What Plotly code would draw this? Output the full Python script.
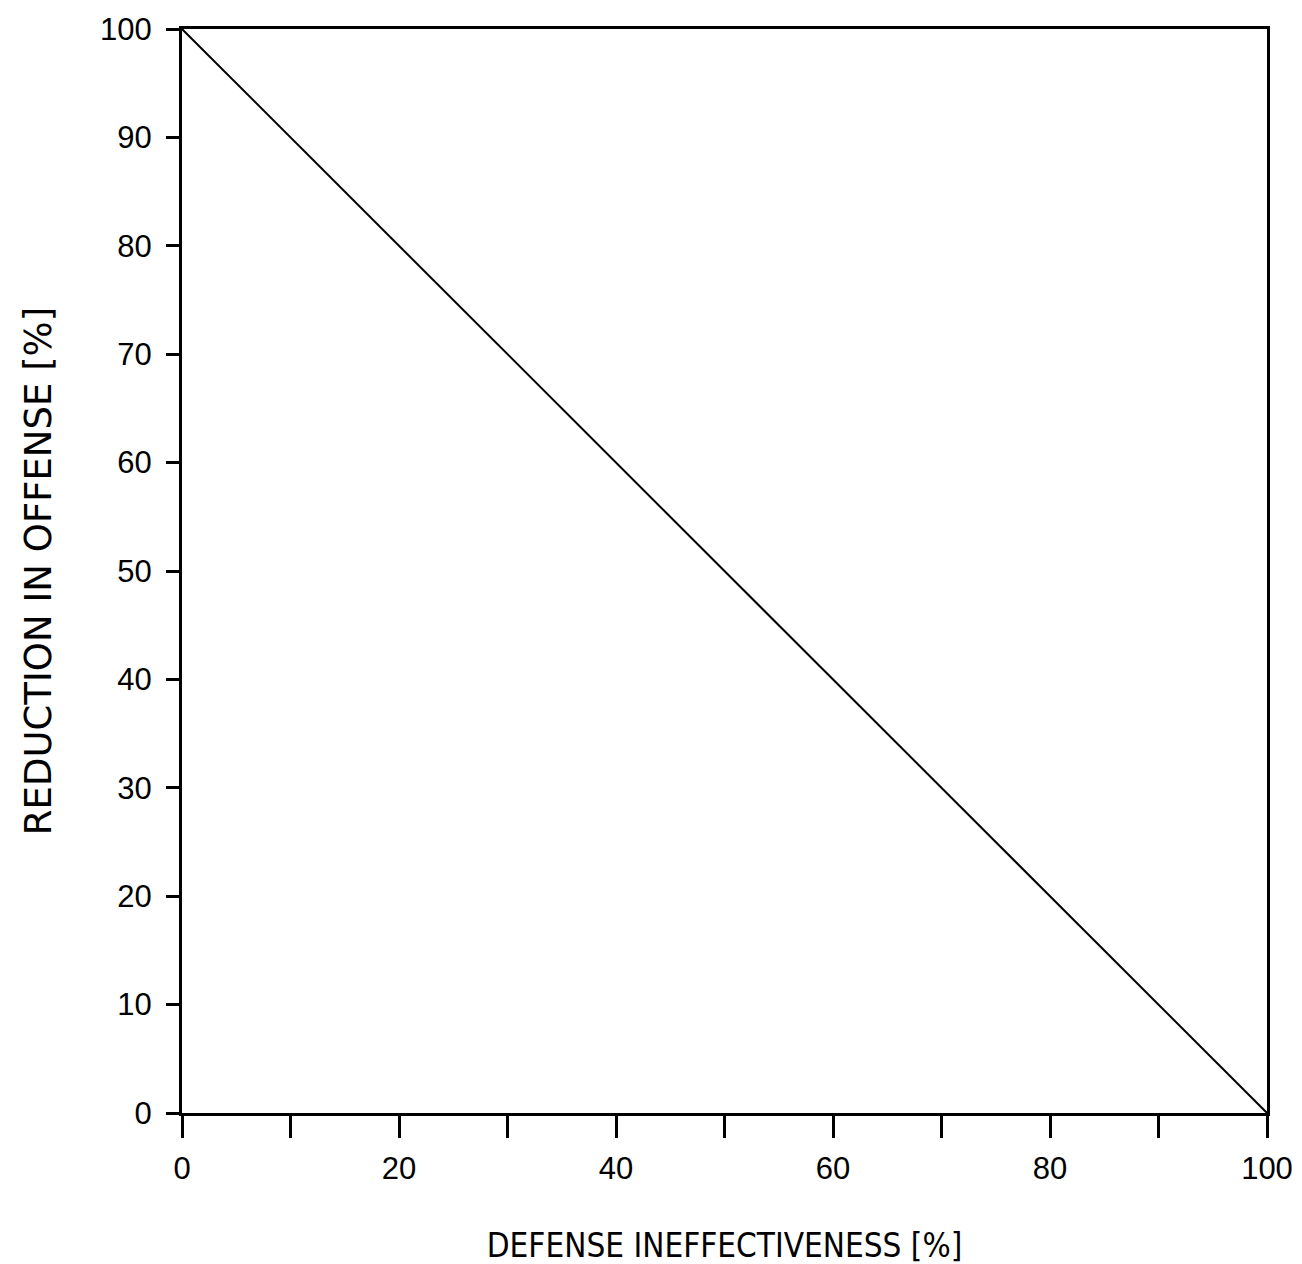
import plotly.graph_objects as go

defense_ineffectiveness = [0, 100]
reduction_in_offense = [100, 0]
x_ticks = [0, 10, 20, 30, 40, 50, 60, 70, 80, 90, 100]
x_labels = ["0", "", "20", "", "40", "", "60", "", "80", "", "100"]
y_ticks = [0, 10, 20, 30, 40, 50, 60, 70, 80, 90, 100]

fig = go.Figure()
fig.add_trace(go.Scatter(x=defense_ineffectiveness, y=reduction_in_offense,
                         mode="lines", line=dict(color="black", width=2),
                         showlegend=False, hoverinfo="skip"))

fig.update_layout(
    width=1302, height=1264,
    margin=dict(l=174, r=43, t=21, b=159, autoexpand=False),
    plot_bgcolor="white", paper_bgcolor="white",
    font=dict(family="Liberation Sans, Arial, sans-serif", color="black", size=31),
)
fig.update_xaxes(range=[0, 100], tickvals=x_ticks, ticktext=x_labels,
                 ticks="outside", ticklen=22, tickwidth=3, tickcolor="black",
                 ticklabelstandoff=4,
                 showline=True, linecolor="black", linewidth=3, mirror=True,
                 showgrid=False, zeroline=False, tickfont=dict(size=31),
                 title=dict(text="DEFENSE INEFFECTIVENESS [%]", standoff=49,
                            font=dict(size=33, family="DejaVu Sans Condensed, DejaVu Sans, sans-serif")))
fig.update_yaxes(range=[0, 100], tickvals=y_ticks,
                 ticks="outside", ticklen=13, tickwidth=3, tickcolor="black",
                 ticklabelstandoff=8,
                 showline=True, linecolor="black", linewidth=3, mirror=True,
                 showgrid=False, zeroline=False, tickfont=dict(size=31),
                 title=dict(text="REDUCTION IN OFFENSE [%]", standoff=38,
                            font=dict(size=37, family="DejaVu Sans, sans-serif")))

fig.write_html("out.html")
